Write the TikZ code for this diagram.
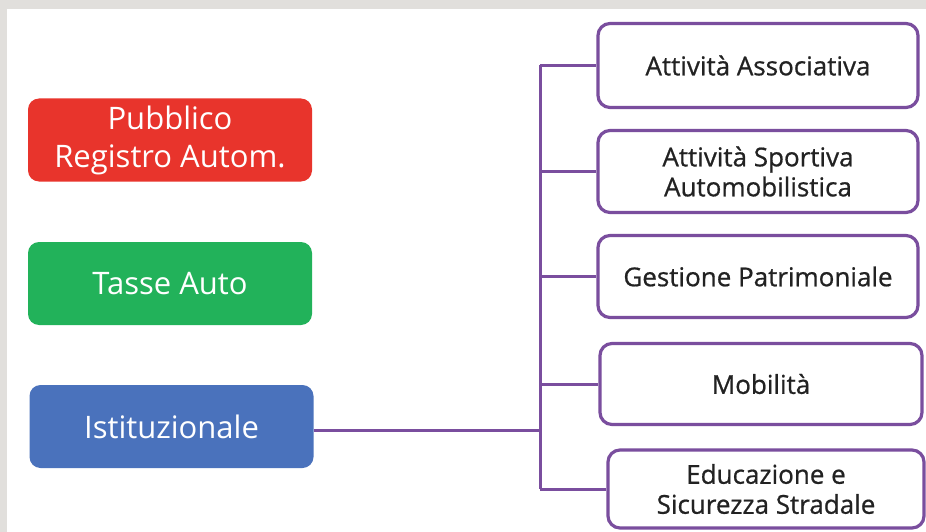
\documentclass[tikz,border=0pt]{standalone}
\usepackage{fontspec}
\setmainfont{Open Sans}
\begin{document}
\begin{tikzpicture}[x=1pt,y=-1pt,
  leftbox/.style={rounded corners=11pt, minimum width=284pt, minimum height=83pt, inner sep=0pt, text=white, align=center, font=\fontsize{31}{38}\selectfont},
  rightbox/.style={draw=linec, line width=3.2pt, fill=white, rounded corners=12pt, minimum width=320pt, inner sep=0pt, text=textc, align=center, font=\fontsize{26}{30}\selectfont\addfontfeature{FakeBold=0.7}},
  conn/.style={draw=linec, line width=3pt}]
\definecolor{linec}{HTML}{7A4E9E}
\definecolor{textc}{HTML}{222222}
\definecolor{redc}{HTML}{E8342C}
\definecolor{greenc}{HTML}{22B25A}
\definecolor{bluec}{HTML}{4A72BC}
\definecolor{greyc}{HTML}{E1DFDC}
\fill[greyc] (0,0) rectangle (926,532);
\fill[white] (7,9) rectangle (926,532);
\useasboundingbox (0,0) rectangle (926,532);
\node[leftbox, fill=redc] (pra) at (170,140) {Pubblico\\Registro Autom.};
\node[leftbox, fill=greenc] (tasse) at (170,283.5) {Tasse Auto};
\node[leftbox, fill=bluec] (ist) at (171.5,426.5) {Istituzionale};
\node[rightbox, minimum height=84pt] (r1) at (758,65.5) {Attività Associativa};
\node[rightbox, minimum height=82pt] (r2) at (758,171.5) {Attività Sportiva\\Automobilistica};
\node[rightbox, minimum height=82pt] (r3) at (758,276.5) {Gestione Patrimoniale};
\node[rightbox, minimum height=81pt, minimum width=322pt] (r4) at (761,384) {Mobilità};
\node[rightbox, minimum height=78pt, minimum width=316pt] (r5) at (766,489) {Educazione e\\Sicurezza Stradale};
\coordinate (t0) at (540,430);
\path[conn] (ist.east |- t0) -- (t0);
\path[conn] (t0 |- r1.west) -- (t0 |- r5.west);
\foreach \r in {r1,r2,r3,r4,r5} \path[conn] (t0 |- \r.west) -- (\r.west);
\end{tikzpicture}
\end{document}
